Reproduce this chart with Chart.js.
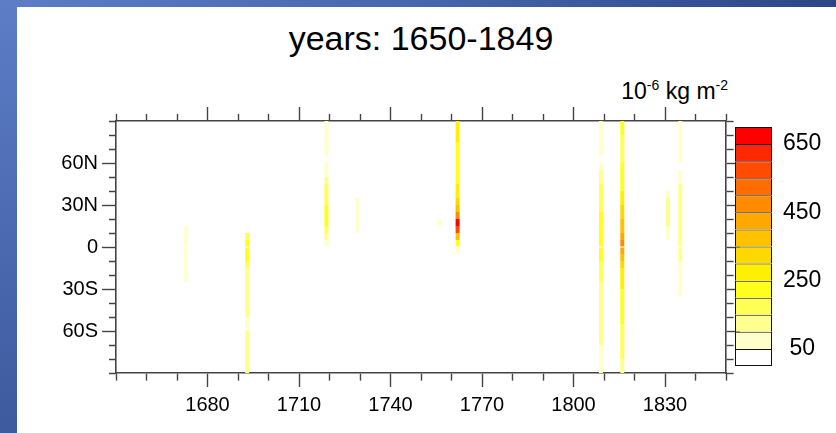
<!DOCTYPE html>
<html>
<head>
<meta charset="utf-8">
<script src="https://cdn.jsdelivr.net/npm/chart.js@4/dist/chart.umd.min.js"></script>
<style>
  body { margin: 0; width: 836px; height: 433px; overflow: hidden; position: relative; background: #fff;
         font-family: "Liberation Sans", Arial, Helvetica, sans-serif; }
  .bandTop { position: absolute; left: 0; top: 0; width: 836px; height: 7px;
             background: linear-gradient(to right, #5d7dc7, #4766ad 50%, #2c4587); }
  .bandLeft { position: absolute; left: 0; top: 0; width: 17px; height: 433px;
              background: linear-gradient(to bottom, #5d7dc7, #4c6bb2 50%, #3e5a9f); }
  #title { position: absolute; left: 116px; width: 610px; top: 21px; text-align: center;
           font-size: 34px; line-height: 34px; color: #000; }
  #units { position: absolute; right: 108px; top: 80px; font-size: 23px; line-height: 23px; color: #000; white-space: nowrap; }
  #units sup { font-size: 14px; vertical-align: 9px; line-height: 0; }
  canvas { position: absolute; }
  #main { left: 0; top: 0; }
  #cbar { left: 730px; top: 110px; }
</style>
</head>
<body>
<div class="bandTop"></div>
<div class="bandLeft"></div>
<div id="title">years: 1650-1849</div>
<div id="units">10<sup>-6</sup> kg m<sup>-2</sup></div>
<canvas id="main" width="836" height="433"></canvas>
<canvas id="cbar" width="106" height="270"></canvas>
<script>
// ---- data ----
const yearLabels = [1680, 1710, 1740, 1770, 1800, 1830];
const latTicks = [60, 30, 0, -30, -60];
const latLabels = ['60N', '30N', '0', '30S', '60S'];

// contour levels and colours (lowest first, white = below 50)
const levels = [50, 100, 150, 200, 250, 300, 350, 400, 450, 500, 550, 600, 650];
const levelColors = ['#ffffff', '#ffffcc', '#ffff8f', '#ffff55', '#ffff1e', '#ffef00', '#ffd800',
                     '#ffc200', '#ffa800', '#ff8c00', '#ff6c00', '#ff4c00', '#ff2800', '#ff0000'];
const cbLabels = [50, 250, 450, 650];

// deposition columns: year, northern edge of first 5 deg band, values going south
const colYears = [1673, 1693, 1719, 1729, 1756, 1762, 1809, 1816, 1831, 1835];
const colNorth = [15, 10, 90, 35, 20, 90, 90, 90, 40, 90];
const colValues = [
  [60, 70, 80, 80, 75, 70, 60, 55],
  [170, 230, 240, 220, 180, 140, 120, 110, 110, 100, 100, 100, 90, 70, 110, 120, 120, 110, 110, 100],
  [70, 80, 80, 70, 60, 0, 60, 90, 120, 150, 170, 190, 210, 230, 220, 170, 110, 60],
  [60, 70, 75, 70, 60],
  [55],
  [290, 280, 270, 210, 200, 200, 200, 200, 210, 250, 260, 300, 380, 480, 680, 560, 350, 200, 70],
  [80, 80, 75, 70, 60, 0, 70, 100, 120, 150, 170, 180, 190, 200, 210, 220, 230, 220,
   210, 200, 190, 180, 160, 140, 120, 110, 110, 100, 100, 100, 100, 100, 90, 90, 80, 80],
  [210, 200, 190, 180, 170, 190, 210, 220, 230, 240, 260, 280, 300, 330, 360, 390, 430, 470,
   440, 380, 320, 290, 270, 250, 240, 230, 220, 210, 200, 190, 180, 170, 160, 150, 140, 130],
  [80, 100, 110, 110, 100, 90, 70],
  [70, 70, 65, 65, 60, 55, 0, 60, 80, 100, 110, 120, 130, 130, 130, 120, 120, 110, 100, 100, 90, 80, 70, 60, 55]
];
const bandDeg = 5;

// ---- helpers ----
function colorFor(v) {
  let i = 0;
  while (i < levels.length && v >= levels[i]) i++;
  return levelColors[i];
}

const cells = [];
colYears.forEach((yr, c) => {
  colValues[c].forEach((v, k) => {
    if (v < levels[0]) return;
    const north = colNorth[c] - k * bandDeg;
    cells.push({ x: yr, y: [north - bandDeg, north], v: v });
  });
});

const yearTickValues = [];
for (let y = 1650; y <= 1850; y += 10) yearTickValues.push(y);
const latTickValues = [];
for (let l = -90; l <= 90; l += 10) latTickValues.push(l);

const isYearMajor = (v) => yearLabels.includes(v);
const isLatMajor = (v) => latTicks.includes(v);

const axisColor = '#444';
const fontFamily = '"Liberation Sans", Arial, Helvetica, sans-serif';
const tickFont = { family: fontFamily, size: 20 };

// dash so minor ticks are half length, measured from the frame
const dashOut = (major) => (ctx) => major(ctx.tick.value) ? [] : [7, 40];
const dashIn = (major) => (ctx) => major(ctx.tick.value) ? [] : [0, 7, 7, 40];

function axisCommon(major, dash, ticks, fitFn) {
  return {
    type: 'linear',
    offset: false,
    afterBuildTicks: (s) => { s.ticks = ticks.map(v => ({ value: v })); },
    afterFit: fitFn,
    border: { display: true, color: axisColor, width: 1.6 },
    grid: {
      display: true, drawOnChartArea: false, offset: false, drawTicks: true,
      tickLength: 14, tickColor: axisColor, tickWidth: 1.4,
      tickBorderDash: dash(major)
    }
  };
}

const xBottom = axisCommon(isYearMajor, dashOut, yearTickValues, (s) => { s.height = 60; });
Object.assign(xBottom, { position: 'bottom', min: 1650, max: 1850 });
xBottom.ticks = { autoSkip: false, maxRotation: 0, padding: 6, color: '#000', font: tickFont,
  callback: (v) => isYearMajor(v) ? String(v) : '' };

const xTop = axisCommon(isYearMajor, dashIn, yearTickValues, (s) => { s.height = 121; });
Object.assign(xTop, { position: 'top', min: 1650, max: 1850 });
xTop.ticks = { display: false, autoSkip: false };

const yLeft = axisCommon(isLatMajor, dashIn, latTickValues, (s) => { s.width = 116; });
Object.assign(yLeft, { position: 'left', min: -90, max: 90 });
yLeft.ticks = { autoSkip: false, padding: 4, color: '#000', font: tickFont,
  callback: (v) => isLatMajor(v) ? latLabels[latTicks.indexOf(v)] : '' };

const yRight = axisCommon(isLatMajor, dashOut, latTickValues, (s) => { s.width = 110; });
Object.assign(yRight, { position: 'right', min: -90, max: 90 });
yRight.ticks = { display: false, autoSkip: false };

new Chart(document.getElementById('main'), {
  type: 'bar',
  data: {
    datasets: [{
      data: cells,
      backgroundColor: (ctx) => ctx.raw ? colorFor(ctx.raw.v) : '#fff',
      borderWidth: 0,
      barThickness: 4,
      inflateAmount: 0
    }]
  },
  options: {
    responsive: false,
    animation: false,
    devicePixelRatio: 1,
    layout: { padding: 0 },
    plugins: { legend: { display: false }, tooltip: { enabled: false }, title: { display: false } },
    scales: { x: xBottom, x2: xTop, y: yLeft, y2: yRight }
  }
});

// ---- colour bar: one floating bar per level band ----
new Chart(document.getElementById('cbar'), {
  type: 'bar',
  data: {
    labels: [''],
    datasets: levelColors.map((c, i) => ({
      data: [[i, i + 1]],
      backgroundColor: c,
      borderColor: '#111',
      borderWidth: { top: 1, left: 1, right: 1, bottom: i === 0 ? 1 : 0 },
      borderSkipped: false,
      grouped: false,
      barPercentage: 1,
      categoryPercentage: 1,
      inflateAmount: 0
    }))
  },
  options: {
    responsive: false,
    animation: false,
    devicePixelRatio: 1,
    layout: { padding: { left: 5, top: 17, bottom: 14, right: 0 } },
    plugins: { legend: { display: false }, tooltip: { enabled: false } },
    scales: {
      x: { display: false, offset: true },
      y: {
        position: 'right', min: 0, max: levelColors.length,
        afterBuildTicks: (s) => { s.ticks = cbLabels.map(l => ({ value: levels.indexOf(l) + 1 })); },
        afterFit: (s) => { s.width = 64; s.paddingTop = 0; s.paddingBottom = 0; },
        grid: { display: false, drawTicks: false },
        border: { display: false },
        ticks: { padding: 11, crossAlign: 'center', color: '#000',
                 font: { family: fontFamily, size: 23 },
                 callback: (v) => String(levels[v - 1]) }
      }
    }
  }
});
</script>
</body>
</html>
